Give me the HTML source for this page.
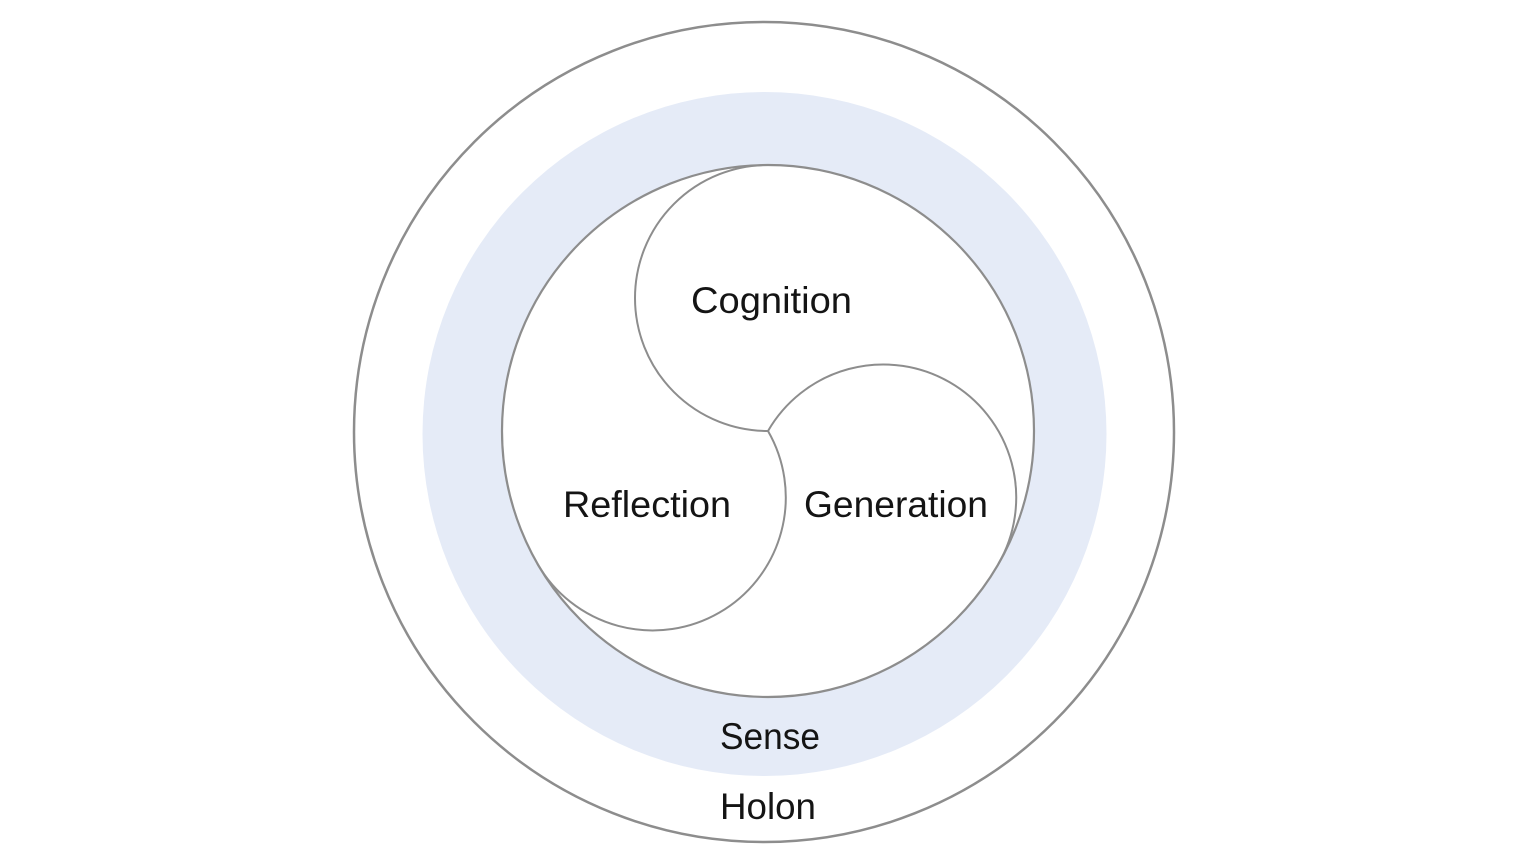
<!DOCTYPE html>
<html><head><meta charset="utf-8"><style>
html,body{margin:0;padding:0;background:#fff;}
svg{display:block;}
text{font-family:"Liberation Sans","Noto Sans CJK JP",sans-serif;fill:#141414;font-size:37px;}
</style></head><body>
<svg width="1536" height="864" viewBox="0 0 1536 864" xmlns="http://www.w3.org/2000/svg">
<rect width="1536" height="864" fill="#fff"/>
<circle cx="764" cy="432" r="410" fill="#fff" stroke="#8d8d8d" stroke-width="2.5"/>
<circle cx="764.5" cy="434" r="342" fill="#e5ebf7"/>
<circle cx="768" cy="431" r="266" fill="#fff" stroke="#8d8d8d" stroke-width="2.2"/>
<g fill="none" stroke="#8d8d8d" stroke-width="2">
<path d="M768 431 A133 133 0 0 1 768 165"/>
<path d="M768 431 A133 133 0 0 1 998.4 564"/>
<path d="M768 431 A133 133 0 0 1 537.6 564"/>
</g>
<text x="691" y="313" textLength="161" lengthAdjust="spacingAndGlyphs">Cognition</text>
<text x="563" y="517" textLength="168" lengthAdjust="spacingAndGlyphs">Reflection</text>
<text x="804" y="517" textLength="184" lengthAdjust="spacingAndGlyphs">Generation</text>
<text x="720" y="749" textLength="100" lengthAdjust="spacingAndGlyphs">Sense</text>
<text x="720" y="819" textLength="96" lengthAdjust="spacingAndGlyphs">Holon</text>
</svg>
</body></html>
